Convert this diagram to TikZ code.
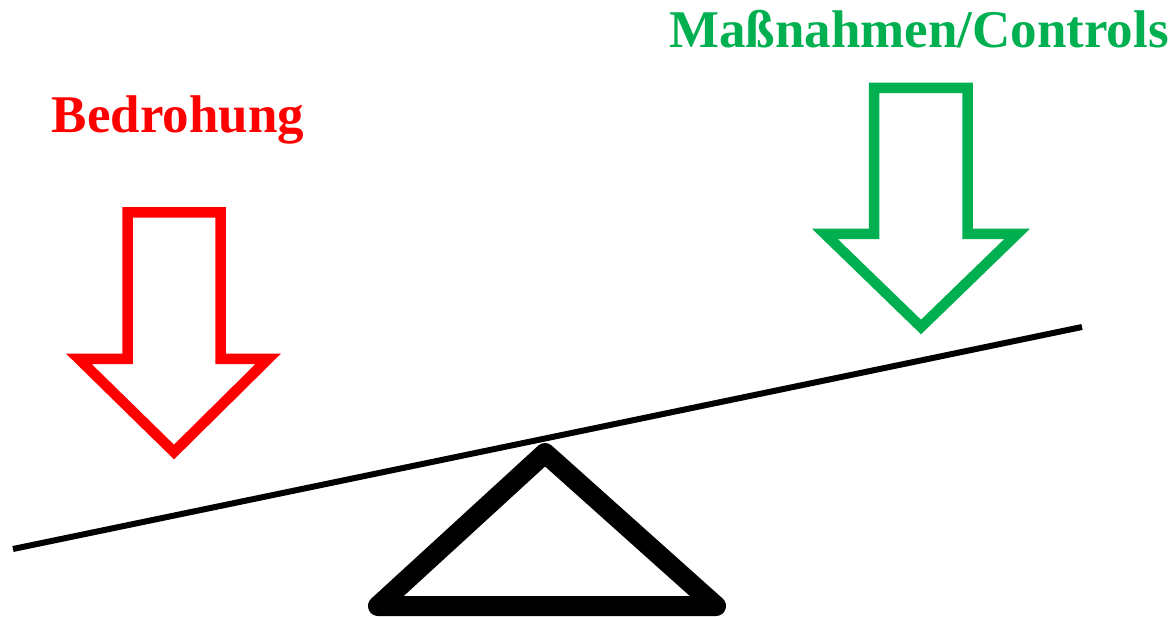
\documentclass[tikz,border=0pt]{standalone}
\usepackage{fontspec}
\setmainfont{Liberation Serif}
\definecolor{offgreen}{HTML}{00B050}
\definecolor{offred}{HTML}{FF0000}
\begin{document}
\begin{tikzpicture}[x=1pt,y=-1pt,
  arrowshape/.style={line width=10.5pt, miter limit=10, line join=miter},
  label/.style={font=\fontsize{53}{60}\selectfont\bfseries, anchor=base, inner sep=0pt}]
\useasboundingbox (0,0) rectangle (1176,617);
% red arrow
\draw[arrowshape, draw=offred] (127.5,212.5) -- (220.5,212.5) -- (220.5,359) -- (268,359) -- (174,452) -- (79,359) -- (127.5,359) -- cycle;
% green arrow
\draw[arrowshape, draw=offgreen] (874,88) -- (967.5,88) -- (967.5,234) -- (1017,234) -- (921,327) -- (825,234) -- (874,234) -- cycle;
% beam
\coordinate (bl) at (13,549);
\coordinate (br) at (1082,327);
\draw[line width=6pt] (bl) -- (br);
% fulcrum
\draw[line width=20pt, line join=round, line cap=round] (378,606) -- (545,453) -- (716,606) -- cycle;
% labels
\node[label, text=offred] (threat) at (178,133) {Bedrohung};
\node[label, text=offgreen] (ctrl) at (919,47.7) {Maßnahmen/Controls};
\end{tikzpicture}
\end{document}
